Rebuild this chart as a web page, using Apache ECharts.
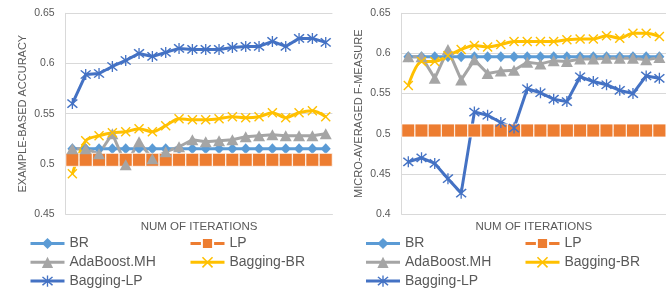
<!DOCTYPE html>
<html><head><meta charset="utf-8">
<script src="https://cdn.jsdelivr.net/npm/echarts@6/dist/echarts.min.js"></script>
<style>html,body{margin:0;padding:0;background:#fff;overflow:hidden}#c{width:666px;height:289px}</style>
</head><body><div id="c"></div>
<script>
const categories = [1,2,3,4,5,6,7,8,9,10,11,12,13,14,15,16,17,18,19,20];
const seriesNames = ['BR','LP','AdaBoost.MH','Bagging-BR','Bagging-LP'];
const leftTitle = 'EXAMPLE-BASED ACCURACY';
const rightTitle = 'MICRO-AVERAGED F-MEASURE';
const xTitle = 'NUM OF ITERATIONS';

// Left panel: example-based accuracy
const accBR       = [0.515,0.515,0.515,0.515,0.515,0.515,0.515,0.515,0.515,0.515,0.515,0.515,0.515,0.515,0.515,0.515,0.515,0.515,0.515,0.515];
const accLP       = [0.504,0.504,0.504,0.504,0.504,0.504,0.504,0.504,0.504,0.504,0.504,0.504,0.504,0.504,0.504,0.504,0.504,0.504,0.504,0.504];
const accAda      = [0.515,0.515,0.510,0.530,0.499,0.522,0.505,0.512,0.517,0.524,0.522,0.523,0.524,0.527,0.528,0.529,0.528,0.528,0.528,0.530];
const accBagBR    = [0.490,0.523,0.528,0.531,0.532,0.535,0.532,0.538,0.545,0.544,0.544,0.545,0.547,0.546,0.547,0.551,0.546,0.551,0.553,0.547];
const accBagLP    = [0.560,0.589,0.590,0.597,0.603,0.610,0.607,0.611,0.615,0.614,0.614,0.614,0.616,0.617,0.617,0.622,0.617,0.625,0.625,0.621];

// Right panel: micro-averaged F-measure
const f1BR        = [0.596,0.596,0.596,0.596,0.596,0.596,0.596,0.596,0.596,0.596,0.596,0.596,0.596,0.596,0.596,0.596,0.596,0.596,0.596,0.596];
const f1LP        = [0.504,0.504,0.504,0.504,0.504,0.504,0.504,0.504,0.504,0.504,0.504,0.504,0.504,0.504,0.504,0.504,0.504,0.504,0.504,0.504];
const f1Ada       = [0.596,0.596,0.569,0.605,0.567,0.592,0.575,0.578,0.579,0.589,0.587,0.591,0.590,0.593,0.593,0.594,0.594,0.594,0.592,0.595];
const f1BagBR     = [0.560,0.590,0.590,0.597,0.605,0.610,0.608,0.611,0.615,0.615,0.615,0.615,0.617,0.618,0.618,0.622,0.619,0.625,0.625,0.621];
const f1BagLP     = [0.465,0.470,0.463,0.444,0.426,0.527,0.523,0.514,0.507,0.556,0.551,0.543,0.540,0.571,0.565,0.561,0.554,0.550,0.572,0.569];

const leftTicks = {min:0.45, max:0.65, interval:0.05};
const rightTicks = {min:0.40, max:0.65, interval:0.05};

const FONT = "'Liberation Sans', Arial, sans-serif";
const TXT = '#595959';
const colors = ['#5B9BD5','#ED7D31','#A5A5A5','#FFC000','#4472C4'];
const xPath = 'path://M1,0 L5,4 L9,0 L10,1 L6,5 L10,9 L9,10 L5,6 L1,10 L0,9 L4,5 L0,1 Z';
const starPath = 'path://M1,0 L5,4 L9,0 L10,1 L6,5 L10,9 L9,10 L5,6 L1,10 L0,9 L4,5 L0,1 Z M4.4,-1 L5.6,-1 L5.6,11 L4.4,11 Z';
const styles = [
  {symbol:'diamond', symbolSize:[10,11]},
  {symbol:'rect', symbolSize:13, itemStyle:{borderColor:'#fff', borderWidth:0.8}},
  {symbol:'triangle', symbolSize:[12,11]},
  {symbol:xPath, symbolSize:10, smooth:0.3},
  {symbol:starPath, symbolSize:11}
];

function mkSeries(dataArrs, gi){
  return dataArrs.map((d,i)=>Object.assign({
    type:'line', name:seriesNames[i], data:d, xAxisIndex:gi, yAxisIndex:gi,
    showAllSymbol:true, animation:false,
    lineStyle:{width:3, color:colors[i]},
    itemStyle:Object.assign({color:colors[i]}, (styles[i].itemStyle||{})),
    emphasis:{disabled:true}
  }, {symbol:styles[i].symbol, symbolSize:styles[i].symbolSize, smooth:styles[i].smooth||false}));
}

function xAx(gi){
  return {type:'category', gridIndex:gi, data:categories, boundaryGap:true,
    axisLine:{show:true, lineStyle:{color:'#D9D9D9', width:1}},
    axisTick:{show:false}, axisLabel:{show:false}, splitLine:{show:false},
    name:xTitle, nameLocation:'middle', nameGap:6.5,
    nameTextStyle:{fontFamily:FONT, fontSize:11.5, color:TXT}};
}
function yAx(gi, t, title){
  return {type:'value', gridIndex:gi, min:t.min, max:t.max, interval:t.interval,
    axisLine:{show:true, lineStyle:{color:'#D9D9D9', width:1}},
    axisTick:{show:false},
    axisLabel:{fontFamily:FONT, fontSize:10.5, color:TXT, margin:11},
    splitLine:{lineStyle:{color:'#D9D9D9', width:1}},
    name:title, nameLocation:'middle', nameGap:37,
    nameTextStyle:{fontFamily:FONT, fontSize:11, color:TXT}};
}
function legend(left, names){
  return {left:left, top:236.5, orient:'vertical', padding:0, itemGap:4.8,
    itemWidth:34, itemHeight:14, data:names, selectedMode:false,
    lineStyle:{width:3},
    textStyle:{fontFamily:FONT, fontSize:14, color:TXT}};
}

const chart = echarts.init(document.getElementById('c'), null, {renderer:'canvas'});
chart.setOption({
  animation:false,
  backgroundColor:'#fff',
  grid:[
    {left:65.7, top:13.3, width:266.7, height:200.7},
    {left:401.7, top:13.3, width:266.7, height:200.7}
  ],
  xAxis:[xAx(0), xAx(1)],
  yAxis:[yAx(0, leftTicks, leftTitle), yAx(1, rightTicks, rightTitle)],
  legend:[
    legend(29, ['BR','AdaBoost.MH','Bagging-LP']),
    legend(189, ['LP','Bagging-BR']),
    legend(364.5, ['BR','AdaBoost.MH','Bagging-LP']),
    legend(524, ['LP','Bagging-BR'])
  ],
  series: mkSeries([accBR,accLP,accAda,accBagBR,accBagLP],0)
    .concat(mkSeries([f1BR,f1LP,f1Ada,f1BagBR,f1BagLP],1))
});
</script></body></html>
